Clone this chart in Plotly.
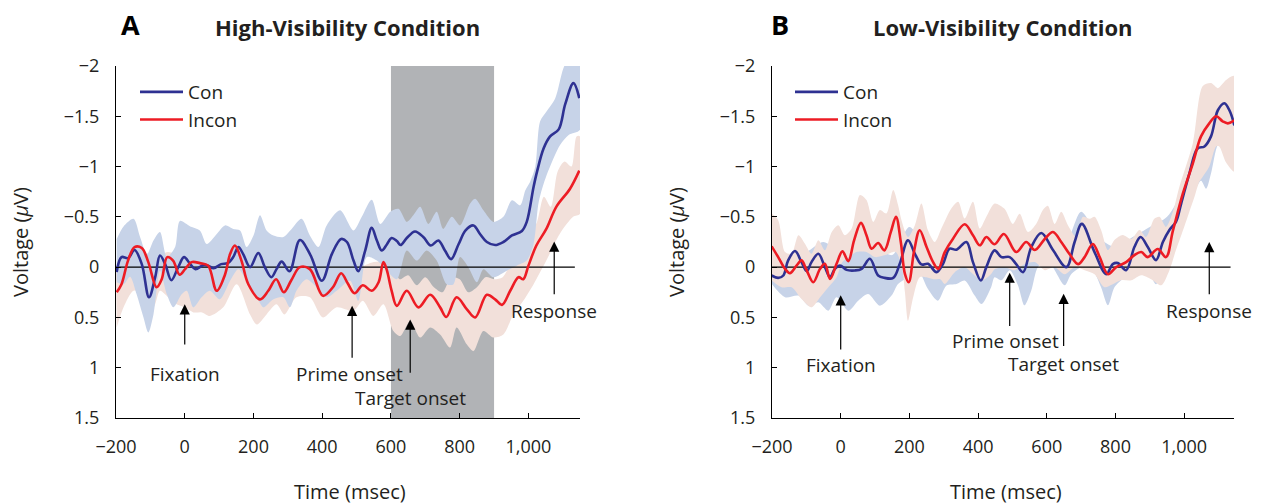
import plotly.graph_objects as go

# ---------------- Panel A (High visibility) ----------------
A_CON_T = [-198,-184,-165,-146,-125,-104,-86,-72,-57,-39,-19,-2,16,31,54,68,84,106,125,141,156,170,190,214,233,252,267,282,305,335,365,399,428,455,472,491,505,525,544,559,573,588,602,617,628,646,670,694,716,738,757,775,797,817,840,859,879,903,927,952,981,995,1015,1025,1044,1063,1088,1107,1131,1148]
A_CON_V = [0.05,-0.1,-0.09,-0.17,-0.03,0.3,0.1,-0.115,-0.03,0.13,0,-0.1,-0.03,0.02,-0.02,-0.015,0.01,-0.03,-0.04,-0.1,-0.2,-0.13,0,-0.14,0,0.1,0.02,-0.055,0.04,-0.27,-0.125,0.135,-0.13,-0.28,-0.25,-0.065,0.04,-0.165,-0.39,-0.265,-0.165,-0.225,-0.29,-0.26,-0.22,-0.29,-0.355,-0.3,-0.215,-0.265,-0.165,-0.08,-0.23,-0.365,-0.415,-0.33,-0.25,-0.22,-0.25,-0.315,-0.36,-0.45,-0.8,-0.95,-1.18,-1.3,-1.37,-1.62,-1.83,-1.68]

A_INC_T = [-198,-184,-165,-146,-125,-106,-82,-67,-51,-34,-15,1,20,44,68,93,117,132,146,165,185,219,243,266,288,310,335,364,402,431,455,474,494,518,544,564,578,588,602,617,646,680,714,743,761,791,821,845,879,903,923,947,971,985,1000,1023,1052,1081,1121,1148]
A_INC_V = [0.25,0.17,-0.065,-0.2,-0.19,-0.05,0.2,0.12,-0.1,-0.065,0.075,0.02,-0.05,-0.04,-0.015,0.235,0.075,-0.13,-0.215,-0.065,0.17,0.32,0.235,0.12,0.25,0.13,0,0.02,0.285,0.2,0.06,0.16,0.26,0.18,0.235,0.15,-0.05,0.03,0.235,0.385,0.235,0.4,0.275,0.4,0.495,0.3,0.42,0.5,0.275,0.32,0.375,0.235,0.1,0.12,-0.015,-0.215,-0.38,-0.6,-0.78,-0.96]

A_CON_HI_T = [-198,-178,-149,-130,-110,-91,-72,-52,-28,-14,16,44,64,93,117,141,161,180,200,219,238,258,287,311,340,364,389,413,452,491,515,544,569,598,622,646,665,685,709,733,752,777,801,830,845,869,898,927,952,976,991,1005,1020,1034,1053,1078,1102,1122,1150]
A_CON_HI_V = [-0.28,-0.405,-0.48,-0.3,-0.13,-0.265,-0.35,-0.1,-0.2,-0.46,-0.405,-0.365,-0.23,-0.33,-0.415,-0.38,-0.365,-0.2,-0.315,-0.515,-0.365,-0.315,-0.3,-0.38,-0.48,-0.315,-0.2,-0.415,-0.565,-0.365,-0.5,-0.67,-0.43,-0.55,-0.58,-0.45,-0.515,-0.6,-0.43,-0.55,-0.38,-0.5,-0.415,-0.63,-0.68,-0.565,-0.45,-0.5,-0.665,-0.615,-0.765,-0.85,-1.0,-1.45,-1.55,-1.68,-1.98,-2.1,-2.1]
A_CON_LO_T = [-198,-178,-159,-140,-120,-106,-91,-72,-52,-33,-9,6,25,49,73,102,132,156,180,210,229,258,287,306,325,354,384,413,442,481,505,530,559,588,617,646,675,704,733,762,782,801,825,850,869,898,937,966,995,1015,1030,1053,1092,1117,1150]
A_CON_LO_V = [0.15,0.17,0.095,0.27,0.5,0.65,0.47,0.035,0.27,0.4,0.27,0.235,0.4,0.3,0.235,0.32,0.135,0.02,0.135,0.3,0.4,0.32,0.3,0.4,0.235,0.12,0.2,0.3,0.235,0.135,0.335,-0.1,-0.065,0.035,0.12,-0.165,-0.065,-0.165,-0.065,0.17,0.17,-0.1,0.0,0.15,0.02,0.1,0.035,-0.015,-0.065,-0.23,-0.65,-0.915,-1.215,-1.315,-1.365]

A_INC_HI_T = [-200,-150,-110,-50,0,50,100,150,200,250,300,350,400,450,500,550,600,625,650,675,700,725,750,775,800,825,850,875,900,925,950,975,1000,1025,1045,1065,1085,1105,1125,1140,1150]
A_INC_HI_V = [0.0,-0.1,-0.05,-0.15,-0.1,-0.1,-0.05,-0.1,-0.1,0.0,-0.1,-0.1,0.05,-0.2,0.0,-0.05,-0.05,0.12,0.08,0.18,0.1,0.2,0.25,0.1,0.12,0.25,0.2,0.1,0.12,0.1,-0.05,-0.2,-0.3,-0.45,-0.7,-0.6,-0.95,-1.05,-1.0,-1.3,-1.3]
A_INC_LO_T = [-198,-178,-149,-120,-91,-72,-48,-24,0,25,50,73,112,151,190,210,238,267,290,325,364,402,442,491,518,549,578,607,627,656,685,714,743,772,791,821,840,869,898,927,956,985,1015,1052,1091,1130,1150]
A_INC_LO_V = [0.6,0.4,0.235,0.27,0.4,0.235,0.3,0.37,0.4,0.45,0.45,0.485,0.4,0.17,0.47,0.57,0.47,0.37,0.47,0.3,0.3,0.5,0.4,0.435,0.335,0.485,0.37,0.635,0.685,0.535,0.7,0.6,0.67,0.8,0.6,0.77,0.835,0.635,0.7,0.67,0.47,0.335,0.17,-0.065,-0.33,-0.5,-0.53]

A_SHADE = [600, 900]

A_EVENTS = ["Fixation", "Prime onset", "Target onset", "Response"]
A_EVENT_T = [0, 487, 656, 1075]
A_HEAD_V = [0.37, 0.385, 0.52, -0.255]
A_TAIL_V = [0.785, 0.915, 1.065, 0.285]
A_LABEL_T = [0, 478, 656, 1075]
A_LABEL_V = [1.065, 1.065, 1.305, 0.435]

# ---------------- Panel B (Low visibility) ----------------
B_CON_T = [-201,-182,-167,-153,-133,-114,-99,-85,-65,-46,-31,-17,-2,17,41,61,85,109,128,153,172,196,216,235,254,279,298,317,337,366,385,408,424,448,468,492,511,531,555,584,618,657,681,702,739,773,792,807,831,855,873,894,918,938,957,976,991,1015,1039,1059,1078,1098,1117,1133,1146]
B_CON_V = [0.083,0.107,0.083,-0.067,-0.16,-0.05,0.04,-0.05,-0.133,0,0.1,0.017,-0.017,0.027,0.033,0.017,-0.083,0.083,0.107,0.107,-0.033,-0.267,-0.133,-0.027,-0.033,0.05,-0.033,-0.183,-0.173,-0.25,-0.05,0.133,0,-0.167,-0.1,-0.1,-0.03,0.05,-0.2,-0.34,-0.17,0,-0.25,-0.43,-0.15,0.07,-0.03,-0.04,0.03,-0.2,-0.3,-0.2,-0.07,-0.25,-0.37,-0.45,-0.63,-0.93,-1.18,-1.2,-1.3,-1.56,-1.63,-1.55,-1.41]

B_INC_T = [-201,-182,-162,-148,-128,-114,-99,-80,-60,-46,-31,-12,5,22,39,59,75,90,109,127,146,161,175,187,198,214,230,250,269,284,303,327,361,385,405,424,448,475,511,540,565,594,618,642,666,691,710,734,754,778,802,831,855,875,894,923,947,967,996,1025,1049,1073,1093,1112,1127,1146]
B_INC_V = [-0.207,-0.1,0.017,0.06,-0.017,-0.067,0.033,0.15,0.017,-0.033,0.117,-0.033,-0.157,-0.06,-0.267,-0.44,-0.317,-0.183,-0.24,-0.167,-0.35,-0.5,-0.25,0.067,0.15,-0.167,-0.367,-0.2,-0.05,0.017,-0.15,-0.283,-0.427,-0.317,-0.217,-0.3,-0.227,-0.33,-0.15,-0.25,-0.17,-0.28,-0.35,-0.25,-0.13,-0.03,-0.1,-0.23,-0.1,0.07,0,-0.05,-0.12,-0.15,-0.1,-0.18,-0.1,-0.36,-0.73,-1.03,-1.3,-1.43,-1.5,-1.45,-1.43,-1.46]

B_INC_HI_T = [-201,-182,-162,-143,-123,-104,-85,-65,-46,-26,-7,12,32,56,75,95,114,133,153,167,177,196,216,235,254,274,293,322,342,361,385,405,424,448,477,501,521,545,569,589,603,623,642,661,686,705,725,739,758,778,797,821,846,870,889,913,928,947,967,986,1025,1054,1078,1098,1122,1146]
B_INC_HI_V = [-0.533,-0.467,-0.15,-0.133,-0.317,-0.233,-0.133,-0.267,-0.167,-0.35,-0.417,-0.317,-0.383,-0.717,-0.667,-0.45,-0.567,-0.533,-0.767,-0.617,-0.467,-0.3,-0.417,-0.633,-0.367,-0.25,-0.383,-0.583,-0.65,-0.483,-0.65,-0.383,-0.5,-0.633,-0.58,-0.43,-0.53,-0.35,-0.43,-0.57,-0.61,-0.43,-0.55,-0.42,-0.3,-0.5,-0.48,-0.5,-0.37,-0.17,-0.27,-0.32,-0.28,-0.37,-0.3,-0.48,-0.5,-0.4,-0.55,-0.8,-1.23,-1.8,-1.83,-1.78,-1.86,-1.9]
B_INC_LO_T = [-201,-172,-143,-114,-85,-60,-36,-12,5,25,45,75,100,130,160,178,187,196,211,230,250,270,290,303,332,361,385,410,438,448,477,506,535,565,594,623,652,681,710,739,768,792,816,846,875,904,933,957,976,1000,1015,1030,1044,1054,1073,1093,1102,1122,1146]
B_INC_LO_V = [0.133,0.2,0.2,0.317,0.4,0.3,0.2,0.1,-0.05,-0.1,-0.15,-0.15,-0.1,-0.12,-0.15,0.0,0.25,0.533,0.3,0.1,0.1,0.12,0.12,0.167,0.05,0,0.067,0.133,0.067,0.02,0,0.03,-0.03,-0.05,0.03,0,0.07,0,0.03,0.07,0.2,0.17,0.13,0.13,0.08,0.12,0.18,0.03,-0.17,-0.4,-0.55,-0.7,-0.85,-0.9,-1.0,-1.2,-1.2,-1.04,-0.95]

B_CON_HI_T = [-200,-150,-100,-50,0,50,100,150,200,250,300,350,400,450,500,550,600,650,700,750,800,850,900,950,1000,1050,1100,1150]
B_CON_HI_V = [-0.15,-0.1,-0.15,-0.25,-0.15,-0.17,-0.2,-0.12,-0.4,-0.2,-0.2,-0.35,-0.15,-0.3,-0.25,-0.35,-0.45,-0.2,-0.55,-0.3,-0.2,-0.3,-0.4,-0.5,-0.8,-1.35,-1.75,-1.75]
B_CON_LO_T = [-201,-162,-123,-94,-65,-36,-12,22,51,80,114,148,167,196,225,254,283,308,337,361,390,410,438,448,468,492,516,535,555,574,603,623,652,671,700,729,758,778,797,826,855,884,904,918,933,952,976,1000,1030,1049,1064,1078,1098,1120,1146]
B_CON_LO_V = [0.167,0.3,0.283,0.383,0.35,0.433,0.3,0.433,0.333,0.267,0.383,0.283,0.167,0.1,0.033,0.217,0.333,0.183,0.167,0.133,0.283,0.367,0.2,0.1,0.13,0.03,0.18,0.38,0.23,0,-0.07,0.03,0.18,0.07,0,0,0.2,0.38,0.2,0.1,0,0,0.1,0.17,0.07,-0.07,-0.3,-0.5,-0.75,-0.86,-0.78,-0.93,-1.22,-1.3,-1.3]

B_EVENTS = ["Fixation", "Prime onset", "Target onset", "Response"]
B_EVENT_T = [0, 492, 649, 1073]
B_HEAD_V = [0.28, 0.055, 0.265, -0.25]
B_TAIL_V = [0.835, 0.6, 0.8, 0.285]
B_LABEL_T = [0, 480, 649, 1073]
B_LABEL_V = [0.975, 0.735, 0.965, 0.435]

# ---------------- axes ----------------
Y_TICKS = [-2, -1.5, -1, -0.5, 0, 0.5, 1, 1.5]
Y_TICKTEXT = ["\u22122", "\u22121.5", "\u22121", "\u22120.5", "0", "0.5", "1", "1.5"]
X_TICKS = [-200, 0, 200, 400, 600, 800, 1000]
X_TICKTEXT = ["\u2212200", "0", "200", "400", "600", "800", "1,000"]

CON_COLOR = "#2E3192"
INC_COLOR = "#ED1C24"
CON_BAND = "#C7D3E8"
INC_BAND = "#F2E0DA"
SHADE = "#B1B3B6"
TXT = "#231F20"
FONT = "Open Sans"

W, H = 1266, 504
fig = go.Figure()


def band(t_hi, v_hi, t_lo, v_lo, color, xa, ya):
    return go.Scatter(x=list(t_hi) + list(t_lo)[::-1], y=list(v_hi) + list(v_lo)[::-1],
                      fill="toself", fillcolor=color, mode="lines",
                      line=dict(width=0, shape="spline", smoothing=0.8),
                      hoverinfo="skip", showlegend=False, xaxis=xa, yaxis=ya)


def line(t, v, color, name, xa, ya, legend):
    return go.Scatter(x=t, y=v, mode="lines", name=name, legend=legend,
                      line=dict(color=color, width=2.6, shape="spline", smoothing=1.0),
                      xaxis=xa, yaxis=ya)


# Panel A : red band under blue band
fig.add_trace(band(A_INC_HI_T, A_INC_HI_V, A_INC_LO_T, A_INC_LO_V, INC_BAND, "x", "y"))
fig.add_trace(band(A_CON_HI_T, A_CON_HI_V, A_CON_LO_T, A_CON_LO_V, CON_BAND, "x", "y"))
fig.add_trace(go.Scatter(x=[X_TICKS[0], 1135], y=[0, 0], mode="lines", line=dict(color="black", width=1.2),
                         showlegend=False, hoverinfo="skip", xaxis="x", yaxis="y"))
fig.add_trace(line(A_CON_T, A_CON_V, CON_COLOR, "Con", "x", "y", "legend"))
fig.add_trace(line(A_INC_T, A_INC_V, INC_COLOR, "Incon", "x", "y", "legend"))

# Panel B : blue band under red band
fig.add_trace(band(B_CON_HI_T, B_CON_HI_V, B_CON_LO_T, B_CON_LO_V, CON_BAND, "x2", "y2"))
fig.add_trace(band(B_INC_HI_T, B_INC_HI_V, B_INC_LO_T, B_INC_LO_V, INC_BAND, "x2", "y2"))
fig.add_trace(go.Scatter(x=[X_TICKS[0], 1135], y=[0, 0], mode="lines", line=dict(color="black", width=1.2),
                         showlegend=False, hoverinfo="skip", xaxis="x2", yaxis="y2"))
fig.add_trace(line(B_CON_T, B_CON_V, CON_COLOR, "Con", "x2", "y2", "legend2"))
fig.add_trace(line(B_INC_T, B_INC_V, INC_COLOR, "Incon", "x2", "y2", "legend2"))

# gray window
fig.add_shape(type="rect", xref="x", yref="y", x0=A_SHADE[0], x1=A_SHADE[1], y0=Y_TICKS[-1], y1=Y_TICKS[0],
              fillcolor=SHADE, line=dict(width=0), layer="below")

ax_common = dict(showgrid=False, zeroline=False, showline=True, linecolor="black", linewidth=1,
                 ticks="inside", ticklen=5, tickcolor="black", automargin=False,
                 tickfont=dict(family=FONT, size=18, color=TXT))

yd = [1 - 418 / H, 1 - 66 / H]
fig.update_layout(
    width=W, height=H, margin=dict(l=0, r=0, t=0, b=0, autoexpand=False),
    paper_bgcolor="white", plot_bgcolor="white",
    xaxis=dict(domain=[116 / W, 580 / W], range=[-200, 1150], tickvals=X_TICKS, ticktext=X_TICKTEXT,
               anchor="y", ticklabelstandoff=12, **ax_common),
    yaxis=dict(domain=yd, range=[1.5, -2], tickvals=Y_TICKS, ticktext=Y_TICKTEXT,
               anchor="x", ticklabelstandoff=12, **ax_common),
    xaxis2=dict(domain=[772 / W, 1234 / W], range=[-200, 1145], tickvals=X_TICKS, ticktext=X_TICKTEXT,
                anchor="y2", ticklabelstandoff=12, **ax_common),
    yaxis2=dict(domain=yd, range=[1.5, -2], tickvals=Y_TICKS, ticktext=Y_TICKTEXT,
                anchor="x2", ticklabelstandoff=12, **ax_common),
    legend=dict(x=135 / W, y=1 - 73 / H, xanchor="left", yanchor="top", bgcolor="rgba(0,0,0,0)",
                font=dict(family=FONT, size=19, color=TXT), tracegroupgap=0, itemwidth=43),
    legend2=dict(x=790 / W, y=1 - 73 / H, xanchor="left", yanchor="top", bgcolor="rgba(0,0,0,0)",
                 font=dict(family=FONT, size=19, color=TXT), tracegroupgap=0, itemwidth=43),
)

ann = []
for names, ts, hv, tv, lt, lv, xr, yr in [
    (A_EVENTS, A_EVENT_T, A_HEAD_V, A_TAIL_V, A_LABEL_T, A_LABEL_V, "x", "y"),
    (B_EVENTS, B_EVENT_T, B_HEAD_V, B_TAIL_V, B_LABEL_T, B_LABEL_V, "x2", "y2"),
]:
    for n, t, h, tl, lx, ly in zip(names, ts, hv, tv, lt, lv):
        ann.append(dict(x=t, y=h, ax=t, ay=tl, xref=xr, yref=yr, axref=xr, ayref=yr, text="",
                        showarrow=True, arrowhead=2, arrowsize=1.7, arrowwidth=1.2, arrowcolor="black"))
        ann.append(dict(x=lx, y=ly, xref=xr, yref=yr, text=n, showarrow=False,
                        font=dict(family=FONT, size=19, color=TXT), xanchor="center", yanchor="middle"))

for letter, lx, title, tx in [("A", 130, "High-Visibility Condition", 347),
                              ("B", 780, "Low-Visibility Condition", 1003)]:
    ann.append(dict(x=lx / W, y=1 - 24 / H, xref="paper", yref="paper", text="<b>%s</b>" % letter,
                    showarrow=False, font=dict(family=FONT, size=27, color="black"), xanchor="center", yanchor="middle"))
    ann.append(dict(x=tx / W, y=1 - 27 / H, xref="paper", yref="paper", text="<b>%s</b>" % title,
                    showarrow=False, font=dict(family=FONT, size=22, color=TXT), xanchor="center", yanchor="middle"))

for tx, vx in [(350, 20), (1006, 676)]:
    ann.append(dict(x=tx / W, y=1 - 491 / H, xref="paper", yref="paper", text="Time (msec)",
                    showarrow=False, font=dict(family=FONT, size=20, color=TXT), xanchor="center", yanchor="middle"))
    ann.append(dict(x=vx / W, y=1 - 242 / H, xref="paper", yref="paper", text="Voltage (<i>\u03bc</i>V)",
                    textangle=-90, showarrow=False, font=dict(family=FONT, size=20, color=TXT),
                    xanchor="center", yanchor="middle"))

fig.update_layout(annotations=ann)
fig.write_html("out.html", config={"displayModeBar": False},
               post_script="document.body.style.margin='0';document.body.style.padding='0';")
